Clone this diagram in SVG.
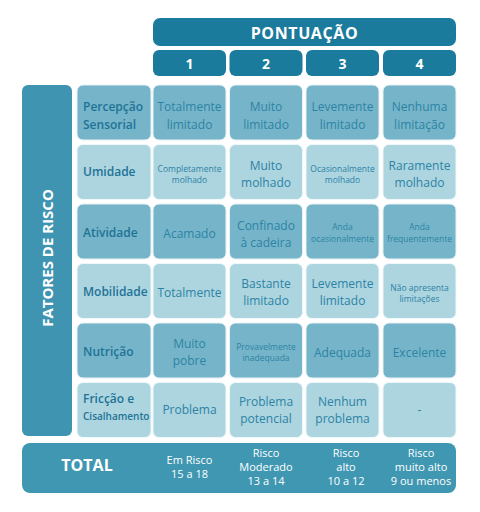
<svg xmlns="http://www.w3.org/2000/svg" width="480" height="512" viewBox="0 0 480 512">
<defs>
<style>
.hdr{fill:#1b7b9c}
.side{fill:#3f95b1}
.tot{fill:#3f97b2}
.d{fill:#76b5c9;stroke:#e6f2f6;stroke-width:1}
.l{fill:#acd5e0;stroke:#eef7f9;stroke-width:1}
text{font-family:"Open Sans","Noto Sans","Liberation Sans",sans-serif}
.wh{fill:#ffffff;font-weight:700}
.lab{fill:#1e7396;font-weight:600;font-size:12px}
.c{fill:#2d83a4;font-size:12px;font-weight:500;text-anchor:middle}
.s{fill:#2d83a4;font-size:8.5px;font-weight:500;text-anchor:middle}
.t{fill:#ffffff;font-size:11px;font-weight:500;text-anchor:middle}
</style>
</defs>
<rect width="480" height="512" fill="#ffffff"/>
<g id="header">
<rect class="hdr" x="153" y="18" width="303" height="28" rx="7"/>
<text class="wh" x="304.5" y="38.5" font-size="16" text-anchor="middle" letter-spacing="0.6">PONTUAÇÃO</text>
</g>
<g id="scores">
<rect class="hdr" x="153" y="50" width="73" height="26" rx="6"/>
<text class="wh" x="189.5" y="68.5" font-size="14" text-anchor="middle">1</text>
<rect class="hdr" x="229.5" y="50" width="73" height="26" rx="6"/>
<text class="wh" x="266" y="68.5" font-size="14" text-anchor="middle">2</text>
<rect class="hdr" x="306" y="50" width="73" height="26" rx="6"/>
<text class="wh" x="342.5" y="68.5" font-size="14" text-anchor="middle">3</text>
<rect class="hdr" x="383" y="50" width="73" height="26" rx="6"/>
<text class="wh" x="419.5" y="68.5" font-size="14" text-anchor="middle">4</text>
</g>
<g id="fatores">
<rect class="side" x="22" y="85" width="50" height="351" rx="6"/>
<text class="wh" transform="translate(53 258) rotate(-90)" font-size="15" text-anchor="middle">FATORES DE RISCO</text>
</g>
<g id="row1">
<rect class="d" x="77" y="85" width="74" height="55" rx="6"/>
<rect class="d" x="153" y="85" width="73" height="55" rx="6"/>
<rect class="d" x="229.5" y="85" width="73" height="55" rx="6"/>
<rect class="d" x="306" y="85" width="73" height="55" rx="6"/>
<rect class="d" x="383" y="85" width="73" height="55" rx="6"/>
<text class="lab" x="83" y="111">Percepção</text>
<text class="lab" x="83" y="128.5">Sensorial</text>
<text class="c" x="189.5" y="111">Totalmente</text>
<text class="c" x="189.5" y="128.5">limitado</text>
<text class="c" x="266" y="111">Muito</text>
<text class="c" x="266" y="128.5">limitado</text>
<text class="c" x="342.5" y="111">Levemente</text>
<text class="c" x="342.5" y="128.5">limitado</text>
<text class="c" x="419.5" y="111">Nenhuma</text>
<text class="c" x="419.5" y="128.5">limitação</text>
</g>
<g id="row2">
<rect class="l" x="77" y="144.5" width="74" height="55" rx="6"/>
<rect class="l" x="153" y="144.5" width="73" height="55" rx="6"/>
<rect class="l" x="229.5" y="144.5" width="73" height="55" rx="6"/>
<rect class="l" x="306" y="144.5" width="73" height="55" rx="6"/>
<rect class="l" x="383" y="144.5" width="73" height="55" rx="6"/>
<text class="lab" x="83" y="176">Umidade</text>
<text class="s" x="189.5" y="171.5">Completamente</text>
<text class="s" x="189.5" y="182.5">molhado</text>
<text class="c" x="266" y="170">Muito</text>
<text class="c" x="266" y="187">molhado</text>
<text class="s" x="342.5" y="171.5">Ocasionalmente</text>
<text class="s" x="342.5" y="182.5">molhado</text>
<text class="c" x="419.5" y="170">Raramente</text>
<text class="c" x="419.5" y="187">molhado</text>
</g>
<g id="row3">
<rect class="d" x="77" y="204" width="74" height="55" rx="6"/>
<rect class="d" x="153" y="204" width="73" height="55" rx="6"/>
<rect class="d" x="229.5" y="204" width="73" height="55" rx="6"/>
<rect class="d" x="306" y="204" width="73" height="55" rx="6"/>
<rect class="d" x="383" y="204" width="73" height="55" rx="6"/>
<text class="lab" x="83" y="237">Atividade</text>
<text class="c" x="189.5" y="237.5">Acamado</text>
<text class="c" x="266" y="229.5">Confinado</text>
<text class="c" x="266" y="246.5">à cadeira</text>
<text class="s" x="342.5" y="230">Anda</text>
<text class="s" x="342.5" y="242">ocasionalmente</text>
<text class="s" x="419.5" y="230">Anda</text>
<text class="s" x="419.5" y="242">frequentemente</text>
</g>
<g id="row4">
<rect class="l" x="77" y="263.5" width="74" height="55" rx="6"/>
<rect class="l" x="153" y="263.5" width="73" height="55" rx="6"/>
<rect class="l" x="229.5" y="263.5" width="73" height="55" rx="6"/>
<rect class="l" x="306" y="263.5" width="73" height="55" rx="6"/>
<rect class="l" x="383" y="263.5" width="73" height="55" rx="6"/>
<text class="lab" x="83" y="296">Mobilidade</text>
<text class="c" x="189.5" y="296.5">Totalmente</text>
<text class="c" x="266" y="288">Bastante</text>
<text class="c" x="266" y="305">limitado</text>
<text class="c" x="342.5" y="288">Levemente</text>
<text class="c" x="342.5" y="305">limitado</text>
<text class="s" x="419.5" y="290.5">Não apresenta</text>
<text class="s" x="419.5" y="301.5">limitações</text>
</g>
<g id="row5">
<rect class="d" x="77" y="323" width="74" height="55" rx="6"/>
<rect class="d" x="153" y="323" width="73" height="55" rx="6"/>
<rect class="d" x="229.5" y="323" width="73" height="55" rx="6"/>
<rect class="d" x="306" y="323" width="73" height="55" rx="6"/>
<rect class="d" x="383" y="323" width="73" height="55" rx="6"/>
<text class="lab" x="83" y="356">Nutrição</text>
<text class="c" x="189.5" y="348">Muito</text>
<text class="c" x="189.5" y="365">pobre</text>
<text class="s" x="266" y="350">Provavelmente</text>
<text class="s" x="266" y="361">inadequada</text>
<text class="c" x="342.5" y="356.5">Adequada</text>
<text class="c" x="419.5" y="356.5">Excelente</text>
</g>
<g id="row6">
<rect class="l" x="77" y="382.5" width="74" height="55" rx="6"/>
<rect class="l" x="153" y="382.5" width="73" height="55" rx="6"/>
<rect class="l" x="229.5" y="382.5" width="73" height="55" rx="6"/>
<rect class="l" x="306" y="382.5" width="73" height="55" rx="6"/>
<rect class="l" x="383" y="382.5" width="73" height="55" rx="6"/>
<text class="lab" x="83" y="403">Fricção e</text>
<text class="lab" x="83" y="420" style="font-size:10px">Cisalhamento</text>
<text class="c" x="189.5" y="414">Problema</text>
<text class="c" x="266" y="406">Problema</text>
<text class="c" x="266" y="423">potencial</text>
<text class="c" x="342.5" y="406">Nenhum</text>
<text class="c" x="342.5" y="423">problema</text>
<text class="c" x="419.5" y="414">-</text>
</g>
<g id="total">
<rect class="tot" x="22" y="443" width="434" height="50" rx="8"/>
<text class="wh" x="87" y="471" font-size="16" text-anchor="middle">TOTAL</text>
<text class="t" x="189.5" y="464">Em Risco</text>
<text class="t" x="189.5" y="478">15 a 18</text>
<text class="t" x="266" y="457">Risco</text>
<text class="t" x="266" y="471">Moderado</text>
<text class="t" x="266" y="485">13 a 14</text>
<text class="t" x="346" y="457">Risco</text>
<text class="t" x="346" y="471">alto</text>
<text class="t" x="346" y="485">10 a 12</text>
<text class="t" x="421" y="457">Risco</text>
<text class="t" x="421" y="471">muito alto</text>
<text class="t" x="421" y="485">9 ou menos</text>
</g>
<g id="connectors"></g>
</svg>
